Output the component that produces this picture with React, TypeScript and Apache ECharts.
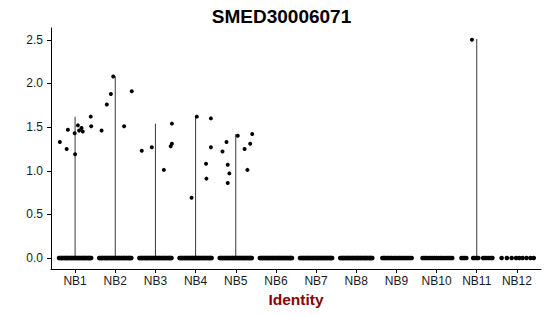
import React, { useEffect, useRef } from "react";
import * as echarts from "echarts";

const categories = ["NB1", "NB2", "NB3", "NB4", "NB5", "NB6", "NB7", "NB8", "NB9", "NB10", "NB11", "NB12"];
const yTicks = [0, 0.5, 1.0, 1.5, 2.0, 2.5];
const yRange = [-0.1255, 2.6355];

// violin extent (max expression) per group
const violinMax = [1.62, 2.08, 1.54, 1.63, 1.42, 0, 0, 0, 0, 0, 2.51, 0];

// expressing cells: [jitter offset, expression]
const nb1Expr = [[-0.38, 1.33], [-0.21, 1.25], [-0.18, 1.47], [-0.01, 1.43], [0.0, 1.19], [0.07, 1.52], [0.1, 1.46], [0.16, 1.49], [0.19, 1.45], [0.39, 1.62], [0.4, 1.51]];
const nb2Expr = [[-0.34, 1.46], [-0.21, 1.76], [-0.11, 1.88], [-0.05, 2.08], [0.22, 1.51], [0.41, 1.91]];
const nb3Expr = [[-0.34, 1.23], [-0.09, 1.27], [0.21, 1.01], [0.38, 1.28], [0.41, 1.31], [0.41, 1.54]];
const nb4Expr = [[-0.1, 0.69], [0.03, 1.62], [0.26, 1.08], [0.27, 0.91], [0.38, 1.6], [0.38, 1.27]];
const nb5Expr = [[-0.33, 1.22], [-0.23, 1.33], [-0.2, 1.07], [-0.16, 0.97], [-0.2, 0.86], [0.05, 1.4], [0.22, 1.25], [0.29, 1.01], [0.36, 1.31], [0.41, 1.42]];
const nb11Expr = [[-0.12, 2.5]];
const exprByGroup = [nb1Expr, nb2Expr, nb3Expr, nb4Expr, nb5Expr, [], [], [], [], [], nb11Expr, []];

// zero-expression cells: jitter offsets
const denseZero = [-0.4, -0.38, -0.35, -0.33, -0.31, -0.28, -0.26, -0.23, -0.21, -0.19, -0.16, -0.14, -0.11, -0.09, -0.07, -0.04, -0.02, 0.01, 0.03, 0.05, 0.08, 0.1, 0.12, 0.15, 0.17, 0.2, 0.22, 0.24, 0.27, 0.29, 0.32, 0.34, 0.36, 0.38, 0.4];
const nb9Zero = [-0.35, -0.32, -0.29, -0.26, -0.22, -0.19, -0.15, -0.12, -0.08, -0.05, -0.01, 0.02, 0.06, 0.09, 0.13, 0.16, 0.2, 0.23, 0.27, 0.3, 0.34, 0.38];
const nb10Zero = [-0.35, -0.31, -0.27, -0.23, -0.18, -0.14, -0.09, -0.05, 0.0, 0.04, 0.09, 0.13, 0.17, 0.22, 0.26, 0.31, 0.35, 0.39];
const nb11Zero = [-0.38, -0.34, -0.3, -0.26, -0.09, -0.05, 0.0, 0.04, 0.16, 0.2, 0.25, 0.3, 0.35, 0.39];
const nb12Zero = [-0.38, -0.25, -0.13, -0.02, 0.06, 0.14, 0.24, 0.34, 0.42];
const zeroByGroup = [denseZero, denseZero, denseZero, denseZero, denseZero, denseZero, denseZero, denseZero, nb9Zero, nb10Zero, nb11Zero, nb12Zero];

const FONT = "Liberation Sans";

export default function App() {
  const ref = useRef<HTMLDivElement>(null);
  useEffect(() => {
    document.body.style.margin = "0";
    if (!ref.current) return;
    const chart = echarts.init(ref.current, undefined, { renderer: "svg" });

    const zeros: number[][] = [];
    const expr: number[][] = [];
    categories.forEach((_, i) => {
      zeroByGroup[i].forEach((o) => zeros.push([i + o, 0]));
      exprByGroup[i].forEach(([o, v]) => expr.push([i + o, v]));
    });
    const violins = categories
      .map((_, i) => [i, violinMax[i]])
      .filter((d) => d[1] > 0);
    const catIdx = categories.map((_, i) => i);

    chart.setOption({
      animation: false,
      grid: { left: 51, right: 9, top: 28, bottom: 47, containLabel: false },
      xAxis: {
        type: "value",
        min: -0.6,
        max: 11.6,
        splitLine: { show: false },
        axisLine: { show: true, onZero: false, lineStyle: { color: "#000", width: 1 } },
        axisTick: { show: true, customValues: catIdx, length: 4, lineStyle: { color: "#000" } },
        axisLabel: {
          customValues: catIdx,
          formatter: (v: number) => categories[Math.round(v)],
          color: "#1a1a1a",
          fontSize: 12,
          fontFamily: FONT,
          margin: 6,
        },
      },
      yAxis: {
        type: "value",
        min: yRange[0],
        max: yRange[1],
        splitLine: { show: false },
        axisLine: { show: true, onZero: false, lineStyle: { color: "#000", width: 1 } },
        axisTick: { show: true, customValues: yTicks, length: 4, lineStyle: { color: "#000" } },
        axisLabel: {
          customValues: yTicks,
          formatter: (v: number) => v.toFixed(1),
          color: "#1a1a1a",
          fontSize: 12,
          fontFamily: FONT,
          margin: 8,
        },
      },
      graphic: [
        {
          type: "text",
          x: 281.5,
          y: 16,
          style: {
            text: "SMED30006071",
            fontFamily: FONT,
            fontWeight: "bold",
            fontSize: 19,
            fill: "#000",
            align: "center",
            verticalAlign: "middle",
          },
        },
        {
          type: "text",
          x: 296,
          y: 299,
          style: {
            text: "Identity",
            fontFamily: FONT,
            fontWeight: "bold",
            fontSize: 15.5,
            fill: "#8b0000",
            align: "center",
            verticalAlign: "middle",
          },
        },
      ],
      series: [
        {
          type: "custom",
          data: violins,
          renderItem: (_params: any, api: any) => {
            const p0 = api.coord([api.value(0), 0]);
            const p1 = api.coord([api.value(0), api.value(1)]);
            return {
              type: "line",
              shape: { x1: p0[0], y1: p0[1], x2: p1[0], y2: p1[1] },
              style: { stroke: "#3a3a3a", lineWidth: 1 },
            };
          },
          z: 1,
        },
        {
          type: "scatter",
          data: zeros,
          symbol: "circle",
          symbolSize: 4.6,
          itemStyle: { color: "#000", opacity: 1 },
          z: 2,
        },
        {
          type: "scatter",
          data: expr,
          symbol: "circle",
          symbolSize: 4,
          itemStyle: { color: "#000", opacity: 1 },
          z: 2,
        },
      ],
    });
    return () => chart.dispose();
  }, []);
  return <div ref={ref} style={{ width: 550, height: 316 }} />;
}
